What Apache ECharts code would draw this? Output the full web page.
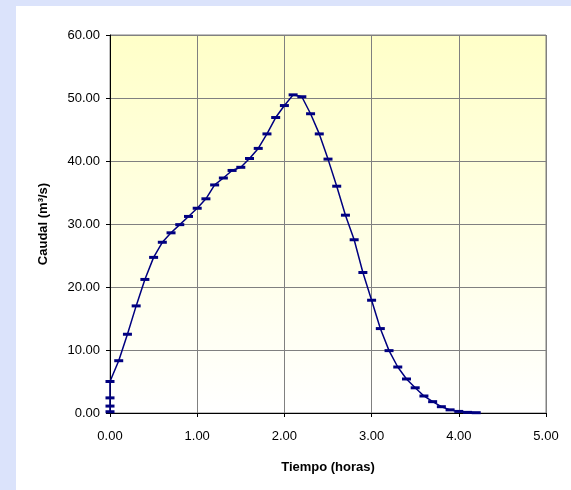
<!DOCTYPE html>
<html>
<head>
<meta charset="utf-8">
<script src="https://cdn.jsdelivr.net/npm/echarts@6/dist/echarts.min.js"></script>
<style>
html,body{margin:0;padding:0;background:#dbe3fb;}
#c{width:571px;height:490px;}
</style>
</head>
<body>
<div id="c"></div>
<script>
var tiempo = [0,0,0,0,0.1,0.2,0.3,0.4,0.5,0.6,0.7,0.8,0.9,1.0,1.1,1.2,1.3,1.4,1.5,1.6,1.7,1.8,1.9,2.0,2.1,2.2,2.3,2.4,2.5,2.6,2.7,2.8,2.9,3.0,3.1,3.2,3.3,3.4,3.5,3.6,3.7,3.8,3.9,4.0,4.1,4.2];
var caudal = [0.2,1.1,2.4,5.0,8.3,12.5,17.0,21.2,24.7,27.1,28.6,29.9,31.2,32.5,34.0,36.2,37.3,38.5,39.0,40.4,42.0,44.3,46.9,48.8,50.5,50.2,47.5,44.3,40.3,36.0,31.4,27.5,22.3,17.9,13.4,9.9,7.3,5.4,4.0,2.7,1.8,1.0,0.5,0.25,0.1,0.05];
var xTitle = 'Tiempo (horas)';
var yTitle = 'Caudal (m\u00B3/s)';

var pts = tiempo.map(function(t,i){return [t, caudal[i]];});
var chart = echarts.init(document.getElementById('c'), null, {renderer:'canvas'});
var font = 'Liberation Sans, Arial, sans-serif';
chart.setOption({
  backgroundColor:'#dbe3fb',
  animation:false,
  graphic:[{type:'rect', z:-10, shape:{x:16,y:6,width:560,height:490}, style:{fill:'#ffffff'}}],
  grid:{left:110,right:25,top:35,bottom:77,show:true,borderColor:'#808080',borderWidth:1,
    backgroundColor:{type:'linear',x:0,y:0,x2:0,y2:1,colorStops:[{offset:0,color:'#ffffc8'},{offset:1,color:'#ffffff'}]}},
  xAxis:{type:'value',min:0,max:5,interval:1,
    name:xTitle,nameLocation:'middle',nameGap:48,
    nameTextStyle:{fontFamily:font,fontSize:13,fontWeight:'bold',color:'#000'},
    axisLine:{show:true,lineStyle:{color:'#000',width:1}},
    axisTick:{show:true,length:4,lineStyle:{color:'#000'}},
    axisLabel:{fontFamily:font,fontSize:13,color:'#000',margin:17,formatter:function(v){return v.toFixed(2);}},
    splitLine:{show:true,lineStyle:{color:'#808080',width:1}}},
  yAxis:{type:'value',min:0,max:60,interval:10,
    name:yTitle,nameLocation:'middle',nameGap:60,nameRotate:90,
    nameTextStyle:{fontFamily:font,fontSize:13,fontWeight:'bold',color:'#000'},
    axisLine:{show:true,lineStyle:{color:'#000',width:1}},
    axisTick:{show:true,length:4,lineStyle:{color:'#000'}},
    axisLabel:{fontFamily:font,fontSize:13,color:'#000',margin:10,formatter:function(v){return v.toFixed(2);}},
    splitLine:{show:true,lineStyle:{color:'#808080',width:1}}},
  series:[{type:'line',data:pts,symbol:'rect',symbolSize:[9,3],showAllSymbol:true,
    lineStyle:{color:'#000080',width:1.5},itemStyle:{color:'#000080'}}]
});
</script>
</body>
</html>
